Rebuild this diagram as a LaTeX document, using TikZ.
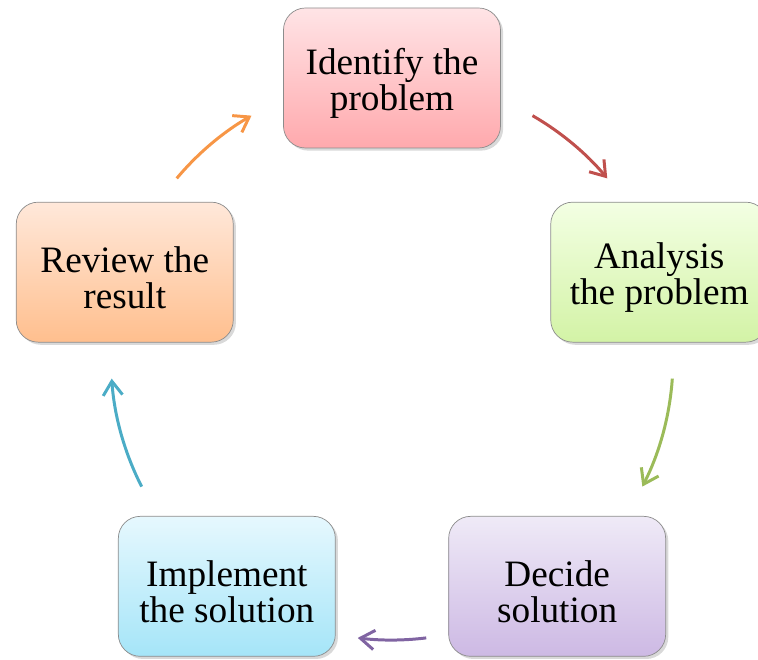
\documentclass[tikz,border=0pt]{standalone}
\usepackage{fontspec}
\setmainfont{Liberation Serif}
\usetikzlibrary{arrows.meta,shadows}

\definecolor{idtop}{HTML}{FFE4E6}
\definecolor{idbot}{HTML}{FFA9AD}
\definecolor{antop}{HTML}{F3FFE3}
\definecolor{anbot}{HTML}{D3F3A6}
\definecolor{detop}{HTML}{EFEAF7}
\definecolor{debot}{HTML}{CDB9E4}
\definecolor{imtop}{HTML}{E6F8FE}
\definecolor{imbot}{HTML}{A5E5F8}
\definecolor{retop}{HTML}{FFE8DA}
\definecolor{rebot}{HTML}{FFBF8E}
\definecolor{arrred}{HTML}{C0504D}
\definecolor{arrgreen}{HTML}{9BBB59}
\definecolor{arrpurple}{HTML}{8064A2}
\definecolor{arrcyan}{HTML}{4BACC6}
\definecolor{arrorange}{HTML}{F79646}

\def\cycrad{5.62}
\def\stagegap{\rule{0pt}{21pt}}

\begin{document}
\begin{tikzpicture}[
  stage/.style={draw=black!45, thin, rounded corners=0.44cm,
    minimum width=4.34cm, minimum height=2.8cm, align=center,
    font=\fontsize{21.2}{20.6}\selectfont,
    drop shadow={shadow xshift=1.5pt, shadow yshift=-1.5pt, opacity=0.3}},
  cycarrow/.style={line width=1.7pt, -{Straight Barb[length=8pt,width=11pt]}}
]
  \useasboundingbox (-7.84,-6.02) rectangle (7.32,7.18);

  % the five stages on a pentagon
  \node[stage, top color=idtop, bottom color=idbot] (identify) at (90:\cycrad) {\stagegap Identify the\\problem};
  \node[stage, top color=antop, bottom color=anbot] (analysis) at (18:\cycrad) {\stagegap Analysis\\the problem};
  \node[stage, top color=detop, bottom color=debot] (decide) at (-54:\cycrad) {\stagegap Decide\\solution};
  \node[stage, top color=imtop, bottom color=imbot] (implement) at (-126:\cycrad) {\stagegap Implement\\the solution};
  \node[stage, top color=retop, bottom color=rebot] (review) at (162:\cycrad) {\stagegap Review the\\result};

  % arrows along the circle
  \coordinate (idstart) at (60:\cycrad);
  \coordinate (anstart) at (-4:\cycrad);
  \coordinate (destart) at (-83:\cycrad);
  \coordinate (imstart) at (207:\cycrad);
  \coordinate (restart) at (140:\cycrad);
  \draw[cycarrow, arrred] (idstart) arc[start angle=60, end angle=40, radius=\cycrad];
  \draw[cycarrow, arrgreen] (anstart) arc[start angle=-4, end angle=-27, radius=\cycrad];
  \draw[cycarrow, arrpurple] (destart) arc[start angle=-83, end angle=-97, radius=\cycrad];
  \draw[cycarrow, arrcyan] (imstart) arc[start angle=207, end angle=184, radius=\cycrad];
  \draw[cycarrow, arrorange] (restart) arc[start angle=140, end angle=120, radius=\cycrad];
\end{tikzpicture}
\end{document}
